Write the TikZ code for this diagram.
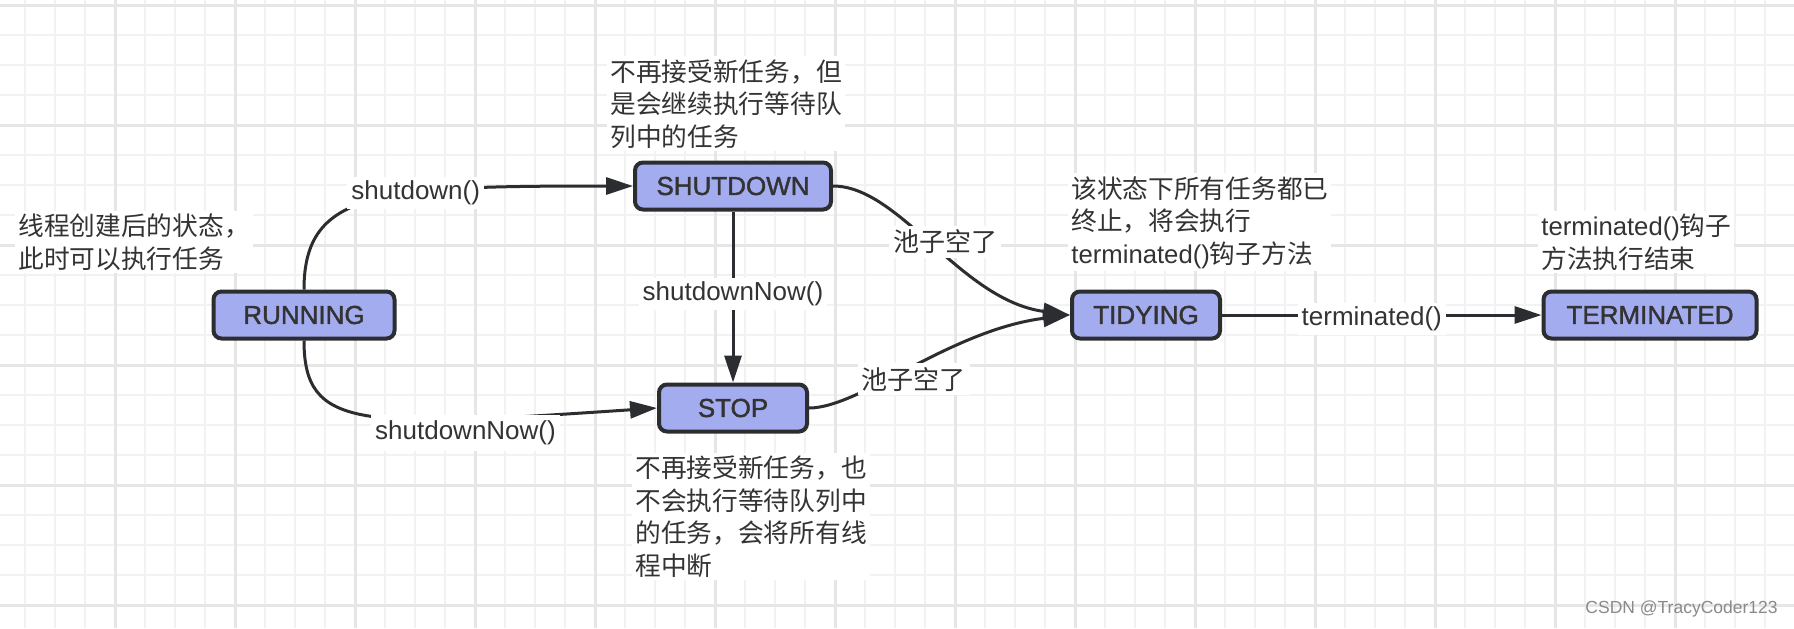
\documentclass[tikz,border=0pt]{standalone}
\usepackage{fontspec}
\setmainfont{Liberation Sans}
\newfontfamily\cjk{Noto Sans CJK SC}
\newfontfamily\boxfont[FakeBold=1.6]{Liberation Sans}
\usetikzlibrary{arrows.meta}
\definecolor{boxfill}{HTML}{A4ACF0}
\definecolor{ink}{HTML}{2B2D31}
\definecolor{txt}{HTML}{333333}
\definecolor{gridminor}{HTML}{F2F2F2}
\definecolor{gridmajor}{HTML}{E6E6E6}
\definecolor{wmgray}{HTML}{8A8A8A}
\begin{document}
\begin{tikzpicture}[x=0.5pt,y=-0.5pt,
  state/.style={draw=ink, line width=2pt, fill=boxfill, rounded corners=4pt,
    font=\boxfont\fontsize{13pt}{15pt}\selectfont, text=txt,
    minimum height=23.5pt, inner sep=0pt},
  note/.style={fill=white, inner sep=1.5pt, align=left, anchor=base west,
    font=\cjk\fontsize{12.85pt}{16.25pt}\selectfont, text=txt},
  lbl/.style={fill=white, inner sep=2pt, font=\fontsize{13pt}{15pt}\selectfont, text=txt},
  conn/.style={draw=ink, line width=1.5pt, -{Triangle[length=13.5pt,width=8.5pt]}},
  gminor/.style={draw=gridminor, line width=1pt},
  gmajor/.style={draw=gridmajor, line width=1.5pt},
]
\useasboundingbox (0,0) rectangle (1794,628);
\fill[white] (0,0) rectangle (1794,628);
% grid
\foreach \x in {25,55,...,1795} \draw[gminor] (\x,0) -- (\x,628);
\foreach \y in {5,35,...,625} \draw[gminor] (0,\y) -- (1794,\y);
\foreach \x in {115,235,...,1795} \draw[gmajor] (\x,0) -- (\x,628);
\foreach \y in {5,125,...,605} \draw[gmajor] (0,\y) -- (1794,\y);

% notes
\node[note] (n1) at (15,268) {线程创建后的状态，\\此时可以执行任务};
\node[note] (n2) at (607,146) {不再接受新任务，但\\是会继续执行等待队\\列中的任务};
\node[note] (n3) at (632,575) {不再接受新任务，也\\不会执行等待队列中\\的任务，会将所有线\\程中断};
\node[note] (n4) at (1068,263) {该状态下所有任务都已\\终止，将会执行\\{\rmfamily terminated()}钩子方法};
\node[note] (n5) at (1538,268) {{\rmfamily terminated()}钩子\\方法执行结束};

% states
\node[state, minimum width=90.5pt] (run) at (304,315) {RUNNING};
\node[state, minimum width=98pt] (shut) at (733,186) {SHUTDOWN};
\node[state, minimum width=74pt] (stop) at (733,408) {STOP};
\node[state, minimum width=74pt] (tidy) at (1146,315) {TIDYING};
\node[state, minimum width=106.5pt] (term) at (1650,315) {TERMINATED};

% connectors
\draw[conn] (run.north) .. controls (304,190) and (380,186) .. (shut.west)
  node[lbl, pos=0.62] (l1) {shutdown()};
\draw[conn] (run.south) .. controls (304,430) and (360,428) .. (stop.west)
  node[lbl, pos=0.73, yshift=-7pt, inner ysep=3pt] (l2) {shutdownNow()};
\draw[conn] (shut.south) -- (stop.north)
  node[lbl, pos=0.47, yshift=-1pt] (l3) {shutdownNow()};
\draw[conn] (shut.east) .. controls (900,186) and (960,300) .. (tidy.west)
  node[lbl, pos=0.5, xshift=5pt, yshift=1.5pt] (l4) {\cjk 池子空了};
\draw[conn] (stop.east) .. controls (860,408) and (950,330) .. (tidy.west)
  node[lbl, pos=0.5, yshift=-6pt] (l5) {\cjk 池子空了};
\draw[conn] (tidy.east) -- (term.west)
  node[lbl, midway, xshift=-5pt, yshift=-2pt] (l6) {terminated()};

% watermark
\node[anchor=east, inner sep=0pt, font=\fontsize{8.75pt}{10pt}\selectfont, text=wmgray] (wm) at (1778,609) {CSDN @TracyCoder123};
\end{tikzpicture}
\end{document}
